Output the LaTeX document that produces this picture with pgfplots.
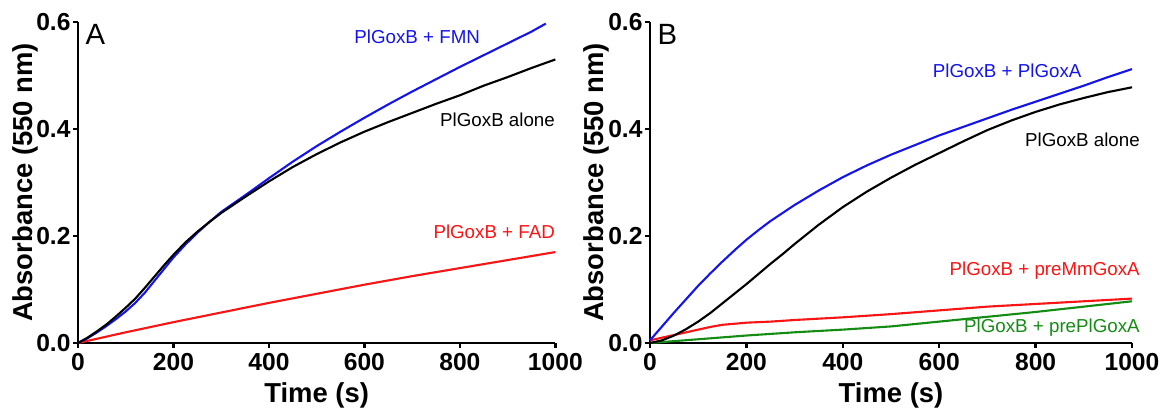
\documentclass[border=0pt]{standalone}
\usepackage{fontspec}
\setmainfont{Liberation Sans}
\usepackage{pgfplots}
\pgfplotsset{compat=1.18}
\usepackage{pgfplotstable}

\definecolor{cblue}{RGB}{20,20,235}
\definecolor{cred}{RGB}{250,20,20}
\definecolor{cgreen}{RGB}{20,140,20}

% panel A
\pgfplotstableread{
t a
0 0
20 0.010
40 0.022
60 0.035
80 0.050
100 0.066
120 0.083
140 0.103
160 0.124
180 0.145
200 0.165
225 0.188
250 0.208
275 0.226
300 0.243
350 0.273
400 0.302
450 0.329
500 0.353
550 0.375
600 0.395
650 0.413
700 0.430
750 0.447
800 0.463
850 0.481
900 0.497
950 0.514
1000 0.530
}\Aalone
\pgfplotstableread{
t a
0 0
20 0.009
40 0.020
60 0.032
80 0.045
100 0.059
120 0.075
140 0.094
160 0.116
180 0.138
200 0.160
225 0.184
250 0.206
275 0.226
300 0.245
350 0.276
400 0.308
450 0.339
500 0.368
550 0.395
600 0.421
650 0.446
700 0.470
750 0.493
800 0.516
850 0.538
900 0.560
950 0.582
980 0.597
}\Afmn
\pgfplotstableread{
t a
0 0
50 0.010
100 0.020
200 0.039
300 0.057
400 0.075
500 0.092
600 0.109
700 0.125
800 0.140
900 0.155
1000 0.170
}\Afad

% panel B
\pgfplotstableread{
t a
0 0
25 0.005
50 0.014
75 0.026
100 0.040
125 0.056
150 0.074
175 0.092
200 0.110
225 0.129
250 0.148
275 0.166
300 0.185
350 0.221
400 0.254
450 0.283
500 0.309
550 0.333
600 0.355
650 0.377
700 0.398
750 0.416
800 0.432
850 0.446
900 0.458
950 0.469
1000 0.478
}\Balone
\pgfplotstableread{
t a
0 0.005
25 0.031
50 0.057
75 0.082
100 0.107
125 0.130
150 0.152
175 0.173
200 0.193
225 0.211
250 0.228
275 0.243
300 0.258
350 0.285
400 0.310
450 0.332
500 0.352
550 0.370
600 0.388
650 0.404
700 0.420
750 0.436
800 0.451
850 0.466
900 0.481
950 0.497
1000 0.512
}\Bgoxa
\pgfplotstableread{
t a
0 0.005
25 0.010
50 0.015
75 0.020
100 0.025
125 0.030
150 0.034
175 0.036
200 0.038
250 0.040
300 0.043
400 0.048
500 0.054
600 0.061
700 0.068
800 0.073
900 0.078
1000 0.083
}\Bmm
\pgfplotstableread{
t a
0 0
100 0.007
200 0.014
300 0.020
400 0.025
500 0.031
600 0.040
700 0.049
800 0.058
900 0.068
1000 0.078
}\Bpl

\pgfplotsset{
  panel/.style={
    scale only axis, width=7.16cm, height=4.815cm,
    xmin=0, xmax=1000, ymin=0, ymax=0.6,
    axis lines*=left,
    axis line style={line width=1.1pt},
    xtick={0,200,...,1000}, ytick={0,0.2,0.4,0.6},
    tick align=outside, major tick length=2pt,
    tick style={line width=1pt, black},
    /pgf/number format/assume math mode=true,
    ticklabel style={font=\fontsize{10.5}{12}\selectfont\bfseries},
    yticklabel style={inner xsep=1pt, /pgf/number format/.cd, fixed, fixed zerofill, precision=1},
    xticklabel style={inner ysep=2pt, /pgf/number format/1000 sep={}},
    xlabel={Time (s)}, ylabel={Absorbance (550 nm)},
    every axis y label/.style={at={(axis description cs:-0.111,0.5)}, rotate=90, anchor=center,
      font=\fontsize{11.7}{13}\selectfont\bfseries},
    every axis x label/.style={at={(axis description cs:0.5,-0.162)}, anchor=center,
      font=\fontsize{11.7}{13}\selectfont\bfseries},
    clip=false,
    every axis plot/.append style={line width=0.9pt},
  },
}
\tikzset{ann/.style={font=\fontsize{8}{9.6}\selectfont, anchor=east, inner sep=0pt}}

\begin{document}
\begin{tikzpicture}
\path[use as bounding box] (-1.17,-1.02) rectangle (16.23,5.145);
\begin{axis}[panel, at={(0,0)}, anchor=origin]
\addplot[cred, no marks] table[x=t, y=a] {\Afad};
\addplot[cblue, no marks] table[x=t, y=a] {\Afmn};
\addplot[black, no marks] table[x=t, y=a] {\Aalone};
\node[font=\fontsize{12.5}{14}\selectfont, anchor=north west, inner sep=0pt] at (axis cs:15,0.596) {A};
\node[ann, text=cblue] at (axis cs:843,0.572) {PlGoxB + FMN};
\node[ann, text=black] at (axis cs:1000,0.417) {PlGoxB alone};
\node[ann, text=cred] at (axis cs:1000,0.207) {PlGoxB + FAD};
\end{axis}
\begin{axis}[panel, width=7.23cm, at={(8.58cm,0)}, anchor=origin]
\addplot[cgreen, no marks] table[x=t, y=a] {\Bpl};
\addplot[cred, no marks] table[x=t, y=a] {\Bmm};
\addplot[black, no marks] table[x=t, y=a] {\Balone};
\addplot[cblue, no marks] table[x=t, y=a] {\Bgoxa};
\node[font=\fontsize{12.5}{14}\selectfont, anchor=north west, inner sep=0pt] at (axis cs:15,0.596) {B};
\node[ann, text=cblue] at (axis cs:896,0.508) {PlGoxB + PlGoxA};
\node[ann, text=black] at (axis cs:1017,0.379) {PlGoxB alone};
\node[ann, text=cred] at (axis cs:1017,0.135) {PlGoxB + preMmGoxA};
\node[ann, text=cgreen] at (axis cs:1017,0.028) {PlGoxB + prePlGoxA};
\end{axis}
\end{tikzpicture}
\end{document}
